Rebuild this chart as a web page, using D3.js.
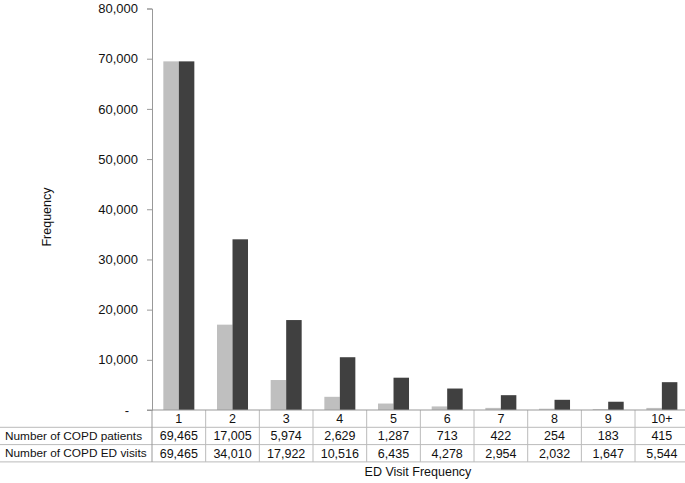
<!DOCTYPE html>
<html>
<head>
<meta charset="utf-8">
<script src="https://cdn.jsdelivr.net/npm/d3@7"></script>
<style>
  body { margin: 0; background: #fff; }
  text { font-family: "Liberation Sans", Arial, sans-serif; fill: #111; }
</style>
</head>
<body>
<svg id="chart" width="685" height="483"></svg>
<script>
var categories = ['1', '2', '3', '4', '5', '6', '7', '8', '9', '10+'];
var patients = [69465, 17005, 5974, 2629, 1287, 713, 422, 254, 183, 415];
var visits = [69465, 34010, 17922, 10516, 6435, 4278, 2954, 2032, 1647, 5544];
var rowLabels = ['Number of COPD patients', 'Number of COPD ED visits'];
var yTicks = [0, 10000, 20000, 30000, 40000, 50000, 60000, 70000, 80000];

(function() {
    var svg = d3.select('#chart');
    var plotLeft = 152, plotRight = 688.7, plotTop = 8.5, plotBottom = 410;
    var rowH = 17.3;
    var fs = 11.8;

    var x = d3.scaleBand().domain(categories).range([plotLeft, plotRight]).padding(0);
    var y = d3.scaleLinear().domain([0, 80000]).range([plotBottom, plotTop]);
    var barW = 15.5;

    var fmt = d3.format(',');

    // y axis
    var yAxis = d3.axisLeft(y)
        .tickValues(yTicks)
        .tickSize(5)
        .tickPadding(9)
        .tickFormat(function(d) { return d === 0 ? '-' : fmt(d); });

    var gy = svg.append('g')
        .attr('transform', 'translate(' + plotLeft + ',0)')
        .call(yAxis);
    gy.select('.domain').attr('stroke', '#999');
    gy.selectAll('.tick line').attr('stroke', '#999');
    gy.selectAll('.tick text')
        .attr('font-size', 13)
        .attr('font-family', '"Liberation Sans", Arial, sans-serif')
        .attr('fill', '#111');
    gy.selectAll('.tick text').filter(function(d) { return d === 0; }).attr('dx', -9);

    // bars
    var groups = svg.append('g').selectAll('g')
        .data(categories)
        .join('g');

    groups.append('rect')
        .attr('x', function(d) { return x(d) + x.bandwidth() / 2 - barW; })
        .attr('width', barW)
        .attr('y', function(d, i) { return y(patients[i]); })
        .attr('height', function(d, i) { return plotBottom - y(patients[i]); })
        .attr('fill', '#bfbfbf');

    groups.append('rect')
        .attr('x', function(d) { return x(d) + x.bandwidth() / 2; })
        .attr('width', barW)
        .attr('y', function(d, i) { return y(visits[i]); })
        .attr('height', function(d, i) { return plotBottom - y(visits[i]); })
        .attr('fill', '#404040');

    // data table
    var table = svg.append('g');
    var lineColor = '#bbb';

    [1, 2, 3].forEach(function(r) {
        var ly = plotBottom + rowH * r;
        table.append('line')
            .attr('x1', 0).attr('x2', 685)
            .attr('y1', ly).attr('y2', ly)
            .attr('stroke', lineColor);
    });

    categories.forEach(function(c, i) {
        if (i === 0) return;
        table.append('line')
            .attr('x1', x(c)).attr('x2', x(c))
            .attr('y1', plotBottom).attr('y2', plotBottom + rowH * 3)
            .attr('stroke', lineColor);
    });
    table.append('line')
        .attr('x1', plotLeft).attr('x2', plotLeft)
        .attr('y1', plotBottom).attr('y2', plotBottom + rowH * 3)
        .attr('stroke', '#999');

    // x axis baseline
    svg.append('line')
        .attr('x1', plotLeft - 5).attr('x2', 685)
        .attr('y1', plotBottom).attr('y2', plotBottom)
        .attr('stroke', '#999');

    var rows = [categories, patients.map(fmt), visits.map(fmt)];
    rows.forEach(function(row, r) {
        table.selectAll(null)
            .data(row)
            .join('text')
            .attr('x', function(d, i) { return x(categories[i]) + x.bandwidth() / 2; })
            .attr('y', plotBottom + rowH * r + rowH / 2)
            .attr('dy', '0.36em')
            .attr('text-anchor', 'middle')
            .attr('font-size', 12.5)
            .text(function(d) { return d; });
    });

    rowLabels.forEach(function(lbl, r) {
        table.append('text')
            .attr('x', 5)
            .attr('y', plotBottom + rowH * (r + 1) + rowH / 2)
            .attr('dy', '0.36em')
            .attr('font-size', fs)
            .text(lbl);
    });

    // axis titles
    svg.append('text')
        .attr('transform', 'translate(51,217) rotate(-90)')
        .attr('text-anchor', 'middle')
        .attr('font-size', 12.5)
        .text('Frequency');

    svg.append('text')
        .attr('x', 418)
        .attr('y', 476)
        .attr('text-anchor', 'middle')
        .attr('font-size', 12.5)
        .text('ED Visit Frequency');
})();
</script>
</body>
</html>
